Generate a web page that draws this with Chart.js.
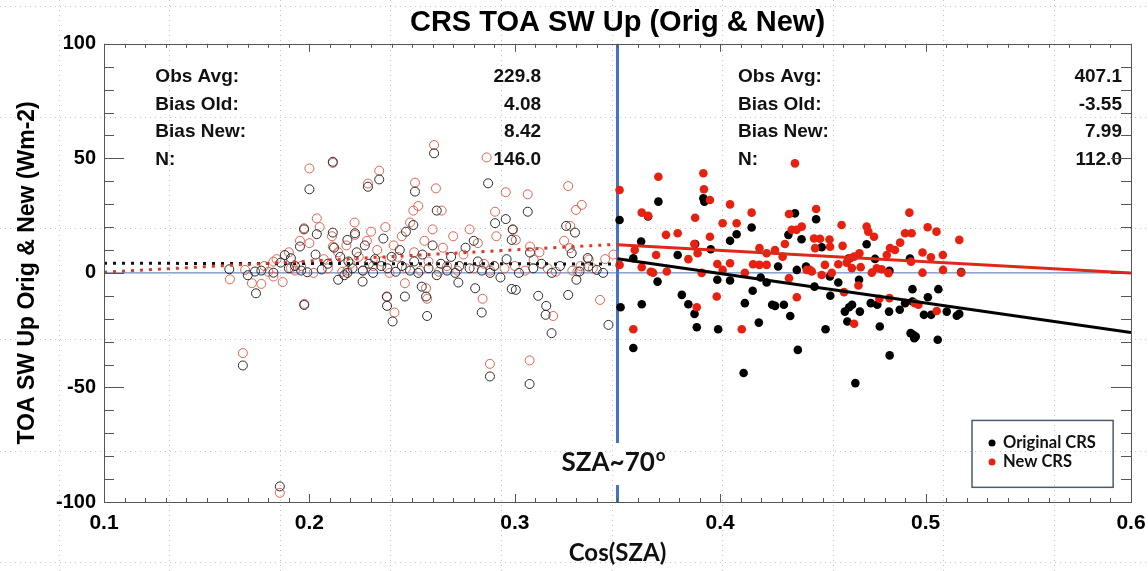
<!DOCTYPE html>
<html>
<head>
<meta charset="utf-8">
<script src="https://cdn.jsdelivr.net/npm/chart.js@4.4.1/dist/chart.umd.min.js"></script>
<style>
  html, body { margin: 0; padding: 0; background: #fff; }
</style>
</head>
<body>
<canvas id="crs-chart" width="1148" height="571"></canvas>
<script>
// x = cos(SZA), y = TOA SW up bias (Wm-2)
// low sun (cos < 0.35), open circles
const oldLow = [
  [0.161, 1.6], [0.1676, -40.4], [0.170, -1], [0.1735, 0.6], [0.174, -8.9], [0.1766, 1], [0.1825, 0.1],
  [0.1856, -93.2], [0.186, 4.5], [0.188, 7.8], [0.190, 2], [0.191, 6.4], [0.193, 3], [0.1954, 11.5],
  [0.196, 1], [0.1974, 19], [0.1975, -14], [0.199, 0.3], [0.2, 36.5], [0.203, 8], [0.2036, 16.9],
  [0.206, 1.5], [0.209, 4], [0.2114, 48.5], [0.2114, 17.6], [0.212, 11], [0.214, -3], [0.215, 7],
  [0.217, -1], [0.2185, 14.4], [0.2185, 0], [0.219, 5], [0.221, 2], [0.2222, 17.3], [0.223, 9],
  [0.2259, -3.8], [0.226, 1], [0.227, 12], [0.2285, 37.6], [0.229, 4], [0.231, 0], [0.232, 6],
  [0.234, 40.8], [0.235, 3], [0.236, 15], [0.2377, -10.3], [0.2378, -14.4], [0.238, 2], [0.24, 7],
  [0.2405, -21.2], [0.242, 0.5], [0.244, 10], [0.245, 3], [0.2465, -10.3], [0.247, 18], [0.249, 1],
  [0.2506, 20.9], [0.251, 5], [0.2514, 35.5], [0.253, 0], [0.2547, -6], [0.255, 8], [0.2568, -10.3],
  [0.2573, -18.8], [0.258, 2], [0.26, 12], [0.2607, 52.2], [0.262, 27.2], [0.262, -1], [0.264, 4],
  [0.267, 1], [0.269, 7], [0.271, 0], [0.2725, -4.2], [0.273, 3], [0.276, 11], [0.278, 2], [0.28, 14],
  [0.2807, -6.7], [0.282, 5], [0.2839, -17.3], [0.284, 1], [0.287, 39.1], [0.2879, -45.2], [0.288, 0],
  [0.29, 3], [0.2904, 21.7], [0.293, -2], [0.2956, 23.5], [0.296, 6], [0.2985, 14.4], [0.2985, -7],
  [0.299, 19], [0.3005, -7.4], [0.302, 0], [0.3063, 26.7], [0.3072, -48.5], [0.3074, 8.9], [0.309, 2],
  [0.3114, -10], [0.313, 4], [0.315, -18.3], [0.3153, -14.4], [0.3179, -26.3], [0.318, 0], [0.322, 3],
  [0.325, 20.5], [0.326, -9.6], [0.3277, 8.6], [0.3293, 17.6], [0.33, -3], [0.3315, 0.6], [0.3355, 6.5],
  [0.3358, 2.8], [0.3399, 1.3], [0.343, 0], [0.3456, -22.7]
];
const newLow = [
  [0.1613, -2.8], [0.1676, -35], [0.1687, 1.3], [0.172, -4.5], [0.1766, -4.8], [0.178, 3], [0.18, 0.5],
  [0.1825, -1.6], [0.1825, 4.9], [0.184, 6], [0.1856, -96], [0.187, -4], [0.19, 9], [0.191, 2], [0.193, 1],
  [0.1954, 14], [0.196, 3], [0.1974, 19.5], [0.1975, -13.5], [0.2, 45.6], [0.2, 13], [0.202, 0],
  [0.2036, 23.8], [0.205, 20], [0.207, 6], [0.209, 2], [0.211, 16], [0.2114, 48], [0.2114, 11.5],
  [0.214, 9], [0.216, 0.5], [0.218, 12], [0.2185, 1], [0.22, 4], [0.2222, 16.6], [0.222, 22], [0.224, 7],
  [0.226, 1], [0.228, 14], [0.2285, 39], [0.23, 18], [0.231, 3], [0.233, 10], [0.234, 44.6], [0.235, 5],
  [0.237, 20], [0.2378, -10.6], [0.239, 0], [0.241, 12], [0.2414, -17.3], [0.243, 7], [0.245, 16],
  [0.2465, -4.5], [0.247, 2], [0.249, 22], [0.2506, 27.2], [0.251, 9], [0.2514, 39.4], [0.253, 29.2],
  [0.254, 1], [0.256, 14], [0.2568, -6.7], [0.2573, -11.3], [0.258, 5], [0.26, 19], [0.2607, 55.8],
  [0.2616, 36.9], [0.263, 0.5], [0.2644, 27.2], [0.265, 11], [0.267, 3], [0.27, 16], [0.272, 1],
  [0.275, 8], [0.278, 19], [0.28, 2], [0.282, 13], [0.2843, -11.3], [0.285, 4], [0.2863, 50.4],
  [0.2879, -39.7], [0.288, 1], [0.2904, 26.7], [0.291, 16], [0.295, 2], [0.2956, 35.2], [0.299, 18.8],
  [0.3, 3], [0.3005, 14.4], [0.305, 1], [0.3063, 34.3], [0.3072, -38.2], [0.3074, 11.5], [0.3092, 5.7],
  [0.312, 9], [0.316, 2], [0.3187, -18.8], [0.32, 0.5], [0.324, 14], [0.326, 37.9], [0.327, 20.5],
  [0.3268, 10.8], [0.328, 1], [0.3298, 27.5], [0.3305, 0.6], [0.332, 3], [0.3326, 29.7], [0.336, 5.8],
  [0.338, 2], [0.3415, -11.8], [0.344, 6], [0.348, 8]
];
// high sun (cos > 0.35), filled dots
const oldHigh = [
  [0.351, 23.1], [0.3515, -15], [0.3577, -32.8], [0.3577, 6.4], [0.3615, 13.7], [0.3618, -13.7],
  [0.3649, 24.6], [0.3695, -3.8], [0.3699, 31.1], [0.3793, 7.8], [0.3813, -9.6], [0.3845, -13.7],
  [0.3875, -17.9], [0.3878, 12.6], [0.3886, -23.7], [0.3918, 32.6], [0.3923, 31.1], [0.3954, 10.3],
  [0.3986, -3], [0.399, -24.6], [0.4048, 14], [0.4048, -3.3], [0.408, 16.9], [0.4114, -43.7],
  [0.412, -13.2], [0.4153, 19.8], [0.4158, -7.8], [0.4188, -21.7], [0.4197, -2], [0.4226, -4.2],
  [0.4253, -13.9], [0.4267, -14.4], [0.4282, 2.8], [0.431, -13.9], [0.4332, 16.6], [0.4341, -18.8],
  [0.4364, 26], [0.4373, 1.3], [0.4378, -33.6], [0.4396, 14.7], [0.4418, 2.8], [0.4459, -6],
  [0.4467, 23.4], [0.4494, 11.2], [0.4513, -24.6], [0.4536, -10], [0.4534, -1.6], [0.4575, -4.2],
  [0.4607, -16.9], [0.4619, -21.2], [0.4625, 6.3], [0.4628, -15], [0.4642, -13.9], [0.4658, -48.1],
  [0.4676, -3], [0.468, -16.9], [0.4713, 12.5], [0.4733, -13.2], [0.4754, 6.1], [0.4765, -13.9],
  [0.4777, -23.4], [0.4822, -16.9], [0.4824, 0.9], [0.4825, -36], [0.4874, -16.1], [0.49, -13.2],
  [0.4924, 6.3], [0.4927, -26.3], [0.4936, -12.5], [0.4936, -7.1], [0.494, -27], [0.4952, -27.8],
  [0.4945, -28.5], [0.4992, -18.3], [0.5011, -10.6], [0.5027, -18.3], [0.5059, -29.2], [0.5062, -7.1],
  [0.5103, -16.9], [0.5152, -18.7], [0.5164, -17.9], [0.5173, 0.4]
];
const newHigh = [
  [0.351, 36.2], [0.351, 3.5], [0.3577, -24.6], [0.3584, 10], [0.3618, 26.3], [0.3618, 2.5],
  [0.3649, 24.9], [0.3662, 0.5], [0.3673, 0.1], [0.3688, 7.8], [0.3699, 42], [0.3736, 16.6], [0.374, 0.6],
  [0.3793, 17.3], [0.3845, 6], [0.3886, -15], [0.3878, 24.1], [0.3874, 12.6], [0.389, 8.6], [0.3918, 43.5],
  [0.3921, 36.5], [0.391, 0], [0.395, 31.8], [0.395, 15.8], [0.3986, 3.9], [0.3983, -10.3], [0.4012, 21.7],
  [0.4012, 1.3], [0.4048, 29.9], [0.4048, 4.2], [0.408, 21.7], [0.4105, -24.6], [0.412, 0], [0.4153, 26.3],
  [0.416, 3.8], [0.4191, 10.8], [0.4191, 3.5], [0.4226, 8.6], [0.4226, 3.5], [0.4267, 10], [0.4304, 7.1],
  [0.4315, 12.6], [0.4335, 25.7], [0.4335, -2.3], [0.4364, 47.8], [0.4348, 18.8], [0.4372, 18.8],
  [0.4397, 20.2], [0.4373, -10.6], [0.4421, 1.3], [0.4437, 1.3], [0.4446, 0.6], [0.4467, 27.9],
  [0.4457, 15], [0.4462, 10.8], [0.4486, 14.9], [0.4494, -0.9], [0.451, 3.5], [0.4532, 14.6],
  [0.4535, 11.4], [0.4543, 0], [0.4575, 3.8], [0.4591, 20.9], [0.4596, 11.8], [0.4603, -8.4],
  [0.4616, 4.5], [0.4633, 6.4], [0.4641, 2.1], [0.4652, 7.1], [0.4652, -22.2], [0.4673, -5.5],
  [0.4678, 8.6], [0.4684, 2.5], [0.4713, 20.2], [0.4721, 18], [0.4749, 15.8], [0.4738, 0.1], [0.4762, 2],
  [0.4786, 1.6], [0.4775, -11.3], [0.4811, 7.8], [0.4827, 10.8], [0.4851, 10], [0.4819, -0.1],
  [0.4824, -11], [0.4876, 13.2], [0.49, 17.3], [0.4932, 17.3], [0.4921, 26.3], [0.4929, 4.9],
  [0.4948, -13.2], [0.4965, -13.9], [0.4985, 8.9], [0.4985, 0.1], [0.501, 19.9], [0.5026, 6.8],
  [0.5054, -16.6], [0.5053, 18], [0.5085, 1.3], [0.5084, 7.8], [0.5164, 14.4], [0.5173, 0.1]
];

// fitted lines (end points)
const fitOldLow = [[0.1, 4.2], [0.35, 3.9]];
const fitNewLow = [[0.1, 0.3], [0.35, 12.5]];
const fitOldHigh = [[0.35, 6.2], [0.6, -26]];
const fitNewHigh = [[0.35, 12.3], [0.6, 0]];
const zeroLine = [[0.1, 0], [0.6, 0]];
const szaLine = [[0.35, -100], [0.35, 100]];

const xTicks = [0.1, 0.2, 0.3, 0.4, 0.5, 0.6];
const yTicks = [-100, -50, 0, 50, 100];

const statLabels = ['Obs Avg:', 'Bias Old:', 'Bias New:', 'N:'];
const statsLow = ['229.8', '4.08', '8.42', '146.0'];
const statsHigh = ['407.1', '-3.55', '7.99', '112.0'];

const HELV = '"Liberation Sans", Arial, sans-serif';
const CALI = 'Lato, "Open Sans", sans-serif';
const toPoints = (pairs) => pairs.map(([x, y]) => ({ x, y }));

function lineSet(pairs, color, width, dash) {
	return {
		data: toPoints(pairs),
		showLine: true,
		borderColor: color,
		borderWidth: width,
		borderDash: dash || [],
		pointRadius: 0,
		fill: false
	};
}

// faint dotted slide grid behind everything
const slideGrid = {
	id: 'slideGrid',
	beforeDraw(chart) {
		const { ctx, width, height } = chart;
		ctx.save();
		ctx.strokeStyle = '#c4c4c4';
		ctx.lineWidth = 1;
		ctx.setLineDash([1, 4]);
		ctx.beginPath();
		for (let gx = 58.5; gx < width; gx += 110.6) {
			ctx.moveTo(Math.round(gx) + 0.5, 0); ctx.lineTo(Math.round(gx) + 0.5, height);
		}
		for (let gy = 5.5; gy < height; gy += 111.3) {
			ctx.moveTo(0, Math.round(gy) + 0.5); ctx.lineTo(width, Math.round(gy) + 0.5);
		}
		ctx.stroke();
		ctx.restore();
	}
};

// inward tick marks + frame, IDL style
const frameTicks = {
	id: 'frameTicks',
	afterDraw(chart) {
		const { ctx, chartArea: a, scales: { x, y } } = chart;
		ctx.save();
		ctx.strokeStyle = '#555';
		ctx.lineWidth = 1;
		ctx.strokeRect(Math.round(a.left) + 0.5, Math.round(a.top) + 0.5, Math.round(a.width), Math.round(a.height));
		ctx.beginPath();
		for (let i = 0; i <= 50; i++) {
			const px = Math.round(x.getPixelForValue(0.1 + i * 0.01)) + 0.5;
			const len = i % 10 === 0 ? 8 : 4;
			ctx.moveTo(px, a.bottom); ctx.lineTo(px, a.bottom - len);
			ctx.moveTo(px, a.top); ctx.lineTo(px, a.top + len);
		}
		for (let i = 0; i <= 20; i++) {
			const py = Math.round(y.getPixelForValue(-100 + i * 10)) + 0.5;
			const len = i % 5 === 0 ? 20 : 10;
			ctx.moveTo(a.left, py); ctx.lineTo(a.left + len, py);
			ctx.moveTo(a.right, py); ctx.lineTo(a.right - len, py);
		}
		ctx.stroke();
		ctx.restore();
	}
};

// stats text, SZA label and legend box
const annotations = {
	id: 'annotations',
	afterDatasetsDraw(chart) {
		const { ctx, scales: { x, y } } = chart;
		ctx.save();
		ctx.fillStyle = '#111';
		ctx.font = 'bold 19px ' + HELV;
		ctx.textBaseline = 'middle';
		const rows = [85.5, 73.5, 61.5, 49.5];
		rows.forEach((v, i) => {
			const py = y.getPixelForValue(v);
			ctx.textAlign = 'left';
			ctx.fillText(statLabels[i], x.getPixelForValue(0.125), py);
			ctx.fillText(statLabels[i], x.getPixelForValue(0.4087), py);
			ctx.textAlign = 'right';
			ctx.fillText(statsLow[i], x.getPixelForValue(0.3128), py);
			ctx.fillText(statsHigh[i], x.getPixelForValue(0.5956), py);
		});

		// SZA~70 label, with a white gap in the blue line
		const sx = x.getPixelForValue(0.35);
		const sy = y.getPixelForValue(-83);
		ctx.fillStyle = '#fff';
		ctx.fillRect(sx - 4, sy - 20, 8, 42);
		ctx.fillStyle = '#111';
		ctx.font = 'bold 26px ' + CALI;
		ctx.textAlign = 'left';
		const w = ctx.measureText('SZA~70').width;
		const tx = sx - 56;
		ctx.fillText('SZA~70', tx, sy);
		ctx.font = 'bold 17px ' + CALI;
		ctx.fillText('o', tx + w + 1, sy - 8);

		// legend
		const lx0 = x.getPixelForValue(0.5226), lx1 = x.getPixelForValue(0.5913);
		const ly0 = y.getPixelForValue(-64.4), ly1 = y.getPixelForValue(-93.6);
		ctx.strokeStyle = '#4d5b6e';
		ctx.lineWidth = 1.5;
		ctx.strokeRect(lx0, ly0, lx1 - lx0, ly1 - ly0);
		ctx.font = 'bold 16.5px ' + CALI;
		const items = [['Original CRS', '#000', -74.2], ['New CRS', '#e8200f', -82.5]];
		items.forEach(([label, color, v]) => {
			const py = y.getPixelForValue(v);
			ctx.fillStyle = color;
			ctx.beginPath();
			ctx.arc(lx0 + 20, py, 3.5, 0, Math.PI * 2);
			ctx.fill();
			ctx.fillStyle = '#111';
			ctx.fillText(label, lx0 + 31, py);
		});
		ctx.restore();
	}
};

const ctx = document.querySelector('#crs-chart').getContext('2d');
const crsChart = new Chart(ctx, {
	type: 'scatter',
	data: {
		datasets: [
			lineSet(fitNewHigh, '#e0281a', 3),
			lineSet(fitOldHigh, '#000', 3),
			lineSet(fitNewLow, '#d9382a', 3, [3, 6]),
			lineSet(fitOldLow, '#111', 3, [3, 6]),
			{
				data: toPoints(newHigh),
				pointRadius: 4.3,
				pointBackgroundColor: '#e8200f',
				pointBorderWidth: 0
			},
			{
				data: toPoints(oldHigh),
				pointRadius: 4.3,
				pointBackgroundColor: '#000',
				pointBorderWidth: 0
			},
			{
				data: toPoints(oldLow),
				pointRadius: 4.5,
				pointBackgroundColor: 'transparent',
				pointBorderColor: '#2a2a2a',
				pointBorderWidth: 1
			},
			{
				data: toPoints(newLow),
				pointRadius: 4.5,
				pointBackgroundColor: 'transparent',
				pointBorderColor: '#e0624f',
				pointBorderWidth: 1
			},
			lineSet(szaLine, '#4472c4', 3),
			lineSet(zeroLine, '#4a6fb5', 1)
		]
	},
	options: {
		responsive: false,
		animation: false,
		devicePixelRatio: 1,
		layout: { padding: { left: 0, right: 17, top: 0, bottom: 0 } },
		plugins: {
			legend: { display: false },
			tooltip: { enabled: false },
			title: {
				display: true,
				fullSize: false,
				text: 'CRS TOA SW Up (Orig & New)',
				color: '#000',
				font: { family: HELV, size: 29, weight: 'bold' },
				padding: { top: 6, bottom: 3 }
			}
		},
		scales: {
			x: {
				type: 'linear',
				min: 0.1,
				max: 0.6,
				afterBuildTicks: (s) => { s.ticks = xTicks.map((v) => ({ value: v })); },
				afterFit: (s) => { s.height = 69; },
				grid: { display: false, drawTicks: false },
				border: { display: false },
				ticks: {
					color: '#000',
					padding: 0,
					font: { family: HELV, size: 21, weight: 'bold', lineHeight: 2 },
					callback: (v) => v.toFixed(1)
				},
				title: {
					display: true,
					text: 'Cos(SZA)',
					color: '#111',
					font: { family: CALI, size: 24, weight: 'bold' },
					padding: { top: 0, bottom: 3 }
				}
			},
			y: {
				min: -100,
				max: 100,
				afterBuildTicks: (s) => { s.ticks = yTicks.map((v) => ({ value: v })); },
				afterFit: (s) => { s.width = 104; },
				grid: { display: false, drawTicks: false },
				border: { display: false },
				ticks: {
					color: '#000',
					padding: 8,
					font: { family: HELV, size: 20, weight: 'bold' }
				},
				title: {
					display: true,
					text: 'TOA SW Up Orig & New (Wm-2)',
					color: '#000',
					font: { family: HELV, size: 23, weight: 'bold' },
					padding: { top: 14, bottom: 0 }
				}
			}
		}
	},
	plugins: [slideGrid, frameTicks, annotations]
});
</script>
</body>
</html>
